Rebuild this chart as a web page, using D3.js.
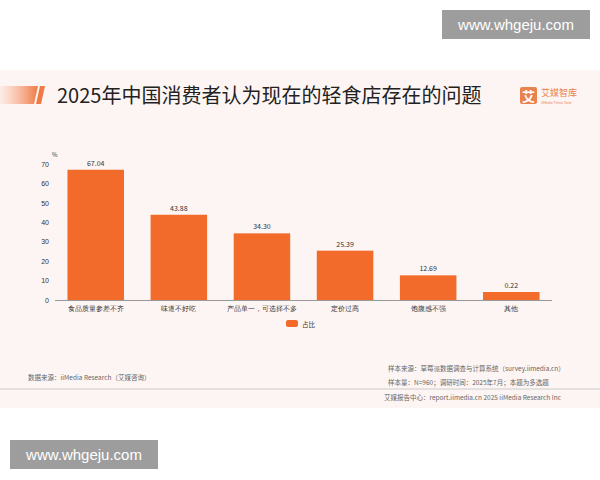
<!DOCTYPE html>
<html><head><meta charset="utf-8">
<script src="https://cdn.jsdelivr.net/npm/d3@7"></script>
<style>body{margin:0;font-family:"Noto Sans CJK SC","Noto Sans",sans-serif;}</style>
</head><body><svg id="c" width="600" height="480"></svg>
<script>
// chart data
var categories = ['食品质量参差不齐', '味道不好吃', '产品单一，可选择不多', '定价过高', '饱腹感不强', '其他'];
var values = [67.04, 43.88, 34.30, 25.39, 12.69, 0.22];
var yTicks = [0, 10, 20, 30, 40, 50, 60, 70];

var svg = d3.select('#c');
var orange = '#f26b2a';

// background panel
svg.append('rect').attr('width', 600).attr('height', 480).attr('fill', '#fff');
svg.append('rect').attr('x', 0).attr('y', 70).attr('width', 600).attr('height', 338).attr('fill', '#fdf5f3');

// title bar decoration
var grad = svg.append('defs').append('linearGradient').attr('id', 'g');
grad.append('stop').attr('offset', '0').attr('stop-color', '#f6a27c').attr('stop-opacity', 0.1);
grad.append('stop').attr('offset', '1').attr('stop-color', '#ef7a45');
svg.append('path').attr('d', 'M0,86 L38,86 L34,104 L0,104 Z').attr('fill', 'url(#g)');
svg.append('path').attr('d', 'M40,86 L45,86 L41,104 L36,104 Z').attr('fill', '#ef7a45');
svg.append('text').attr('x', 57).attr('y', 103).attr('font-size', 20).attr('fill', '#222')
  .text('2025年中国消费者认为现在的轻食店存在的问题');

// logo
svg.append('rect').attr('x', 520).attr('y', 87).attr('width', 17).attr('height', 17).attr('rx', 2).attr('fill', '#e8834f');
svg.append('text').attr('x', 528.5).attr('y', 101).attr('text-anchor', 'middle').attr('font-size', 13).attr('fill', '#fff').attr('font-weight', 'bold').text('艾');
svg.append('text').attr('x', 541).attr('y', 96).attr('font-size', 9).attr('fill', '#e8834f').text('艾媒智库');
svg.append('text').attr('x', 541).attr('y', 104).attr('font-size', 3.5).attr('fill', '#e8834f').text('iiMedia Think Tank');

// scales
var x = d3.scaleBand().domain(categories).range([55, 552]).paddingInner(0.32).paddingOuter(0.15);
var y = d3.scaleLinear().domain([0, 70]).range([300, 164]);
var minH = 8; // visible stub for tiny values

svg.append('g').attr('transform', 'translate(55,0)')
  .call(d3.axisLeft(y).tickValues(yTicks).tickSize(0).tickPadding(6))
  .call(function (g) { g.select('.domain').remove(); })
  .selectAll('text').attr('font-size', 7).attr('fill', '#333');
svg.append('text').attr('x', 52).attr('y', 157).attr('font-size', 6).attr('fill', '#333').text('%');

function barTop(d) { return Math.min(y(d), y(0) - minH); }

svg.selectAll('.bar').data(values).enter().append('rect')
  .attr('x', function (d, i) { return x(categories[i]); })
  .attr('y', barTop)
  .attr('width', x.bandwidth())
  .attr('height', function (d) { return y(0) - barTop(d); })
  .attr('fill', orange);

svg.selectAll('.lbl').data(values).enter().append('text')
  .attr('x', function (d, i) { return x(categories[i]) + x.bandwidth() / 2; })
  .attr('y', function (d) { return barTop(d) - 4; })
  .attr('text-anchor', 'middle').attr('font-size', 7).attr('fill', '#333')
  .text(function (d) { return d.toFixed(2); });

svg.append('line').attr('x1', 55).attr('x2', 552).attr('y1', 300.5).attr('y2', 300.5).attr('stroke', '#999');

svg.append('g').attr('transform', 'translate(0,300)')
  .call(d3.axisBottom(x).tickSize(0).tickPadding(6))
  .call(function (g) { g.select('.domain').remove(); })
  .selectAll('text').attr('font-size', 6.5).attr('fill', '#333');

// legend
svg.append('rect').attr('x', 286).attr('y', 320).attr('width', 12).attr('height', 7).attr('rx', 2).attr('fill', orange);
svg.append('text').attr('x', 302).attr('y', 326.5).attr('font-size', 6.5).attr('fill', '#333').text('占比');

// footer
var foot = '#666';
svg.append('text').attr('x', 28).attr('y', 380).attr('font-size', 6.5).attr('fill', foot).text('数据来源：iiMedia Research（艾媒咨询）');
svg.append('text').attr('x', 388).attr('y', 371).attr('font-size', 6.5).attr('fill', foot).text('样本来源：草莓派数据调查与计算系统（survey.iimedia.cn）');
svg.append('text').attr('x', 388).attr('y', 385).attr('font-size', 6.5).attr('fill', foot).text('样本量：N=960；调研时间：2025年7月；本题为多选题');
svg.append('line').attr('x1', 0).attr('x2', 600).attr('y1', 389).attr('y2', 389).attr('stroke', '#ccc');
svg.append('text').attr('x', 384).attr('y', 400).attr('font-size', 6.5).attr('fill', foot).text('艾媒报告中心：report.iimedia.cn  2025 iiMedia Research Inc');

// watermarks
[[442, 10], [10, 440]].forEach(function (p) {
  svg.append('rect').attr('x', p[0]).attr('y', p[1]).attr('width', 148).attr('height', 29).attr('fill', '#8c8c8c').attr('opacity', 0.85);
  svg.append('text').attr('x', p[0] + 74).attr('y', p[1] + 20).attr('text-anchor', 'middle').attr('font-size', 15)
    .attr('fill', '#fff').attr('font-family', 'Liberation Sans, sans-serif').text('www.whgeju.com');
});
</script></body></html>
